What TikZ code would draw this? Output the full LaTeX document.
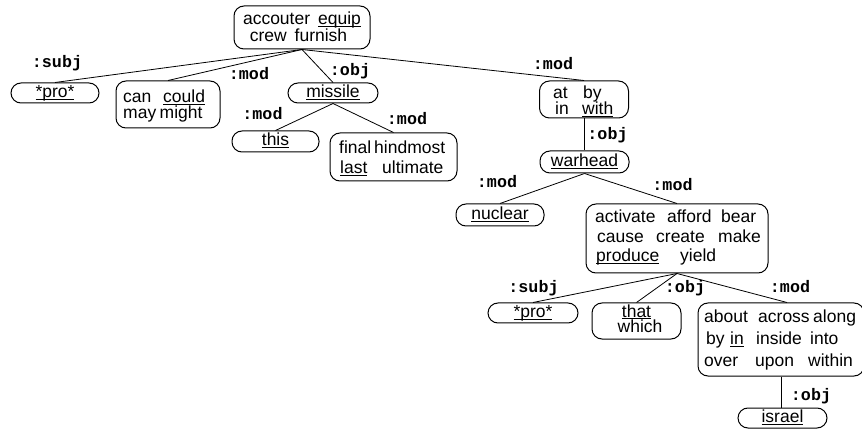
\documentclass[tikz,border=0pt]{standalone}
\usepackage{fontspec}
\setmainfont{Liberation Sans}
\newfontfamily\relfont{Liberation Mono}

% underline at a fixed depth, cutting through descenders
\newcommand\uword[1]{\setbox0\hbox{#1}\rlap{\rule[-2.2pt]{\wd0}{0.9pt}}\box0}
% a stack of lines with a fixed baseline distance; baseline = first line
\newcommand\wordlines[2]{\vtop{\baselineskip=#1\lineskiplimit=-100pt\relax #2}}

\begin{document}
\begin{tikzpicture}[x=1pt,y=-1pt,
  box/.style={draw, line width=1pt, rounded corners=10pt, inner sep=0pt},
  wbox/.style={box, font=\fontsize{17.5}{17.5}\selectfont, text height=12.5pt, text depth=3.5pt},
  words/.style={inner sep=0pt, font=\fontsize{17.5}{17.5}\selectfont},
  rel/.style={inner sep=0pt, anchor=base, font=\relfont\bfseries\fontsize{16.7}{16.7}\selectfont},
  edge/.style={line width=0.8pt}]

\path[fill=white, use as bounding box] (0,0) rectangle (862,430);

% ---- boxes ----
\node[box, minimum width=136pt, minimum height=43pt] (root) at (302,27.5) {};
\node[words, anchor=base] (root-w) at (302,25) {\wordlines{17pt}{%
  \hbox to 130pt{\hss accouter\hspace{8pt}\uword{equip}\hss}%
  \hbox to 130pt{\hss crew\hspace{8pt}furnish\kern7pt\hss}}};

\node[wbox, minimum width=88pt, minimum height=20pt] (pro1) at (55,93) {\uword{*pro*}};

\node[box, minimum width=104pt, minimum height=47pt] (can) at (168,104.5) {};
\node[words, anchor=base west] (can-w) at (123,103) {\wordlines{15.5pt}{%
  \hbox{\makebox[40pt][l]{can}\uword{could}}%
  \hbox{\makebox[36.5pt][l]{may}might}}};

\node[wbox, minimum width=90pt, minimum height=20pt] (missile) at (333,93) {\uword{missile}};

\node[wbox, minimum width=87pt, minimum height=21pt] (this) at (275.5,141.5) {\uword{this}};

\node[box, minimum width=127pt, minimum height=48pt] (final) at (393.5,157) {};
\node[words, anchor=base west] (final-w) at (339,153.5) {\wordlines{20pt}{%
  \hbox{\makebox[35pt][l]{final}hindmost}%
  \hbox{\kern1pt\makebox[42pt][l]{\uword{last}}ultimate}}};

\node[box, minimum width=89pt, minimum height=37pt] (atby) at (584,99.5) {};
\node[words, anchor=base west] (atby-w) at (553,99) {\wordlines{15.5pt}{%
  \hbox{\makebox[30pt][l]{at}by}%
  \hbox{\kern2pt\makebox[27pt][l]{in}\uword{with}}}};

\node[wbox, minimum width=89pt, minimum height=22pt] (warhead) at (584.5,162) {\uword{warhead}};

\node[wbox, minimum width=88pt, minimum height=22pt] (nuclear) at (500,215) {\uword{nuclear}};

\node[box, minimum width=182pt, minimum height=69pt] (activate) at (677,238.5) {};
\node[words, anchor=base west] (activate-w) at (595,223) {\wordlines{19.5pt}{%
  \hbox{\makebox[72pt][l]{activate}\makebox[54pt][l]{afford}bear}%
  \hbox{\kern2pt\makebox[59pt][l]{cause}\makebox[62pt][l]{create}make}%
  \hbox{\kern1pt\makebox[84pt][l]{\uword{produce}}yield}}};

\node[wbox, minimum width=90pt, minimum height=20pt] (pro2) at (533,313) {\uword{*pro*}};

\node[box, minimum width=89pt, minimum height=36pt] (that) at (636.5,321) {};
\node[words, anchor=base] (that-w) at (636.5,317) {\wordlines{16pt}{%
  \hbox to 60pt{\hss\uword{that}\hss}%
  \hbox to 60pt{\hss\kern7pt which\hss}}};

\node[box, minimum width=166pt, minimum height=73pt] (about) at (781,339.5) {};
\node[words, anchor=base west] (about-w) at (704,323) {\wordlines{22pt}{%
  \hbox{\makebox[54pt][l]{about}\makebox[55pt][l]{across}along}%
  \hbox{\kern2pt\makebox[24pt][l]{by}\makebox[26pt][l]{\uword{in}}\makebox[54pt][l]{inside}into}%
  \hbox{\makebox[51pt][l]{over}\makebox[53pt][l]{upon}within}}};

\node[wbox, minimum width=89pt, minimum height=20pt] (israel) at (782.5,418) {\uword{israel}};

% ---- connectors ----
\draw[edge] (root.south) -- (pro1.north);
\draw[edge] (root.south) -- (can.north);
\draw[edge] (root.south) -- (missile.north);
\draw[edge] (root.south) -- (atby.north);
\draw[edge] (missile.south) -- (this.north);
\draw[edge] (missile.south) -- (final.north);
\draw[edge] (atby.south) -- (atby.south |- warhead.north);
\draw[edge] (warhead.south) -- (nuclear.north);
\draw[edge] (warhead.south) -- (activate.north);
\draw[edge] (activate.south) -- (pro2.north);
\draw[edge] (activate.south) -- (that.north);
\draw[edge] (activate.south) -- ([xshift=6pt]about.north);
\draw[edge] (about.south) -- (about.south |- israel.north);

% ---- relation labels ----
\node[rel] (l-subj1) at (57,68) {:subj};
\node[rel] (l-mod1) at (249,80) {:mod};
\node[rel] (l-obj1) at (350,76) {:obj};
\node[rel] (l-mod2) at (553,70) {:mod};
\node[rel] (l-mod3) at (262.5,120) {:mod};
\node[rel] (l-mod4) at (407,125) {:mod};
\node[rel] (l-obj2) at (607.5,139.5) {:obj};
\node[rel] (l-mod5) at (497,188) {:mod};
\node[rel] (l-mod6) at (672.5,191) {:mod};
\node[rel] (l-subj2) at (533.5,293) {:subj};
\node[rel] (l-obj3) at (685,293) {:obj};
\node[rel] (l-mod7) at (790,293) {:mod};
\node[rel] (l-obj4) at (811,400) {:obj};
\end{tikzpicture}
\end{document}
